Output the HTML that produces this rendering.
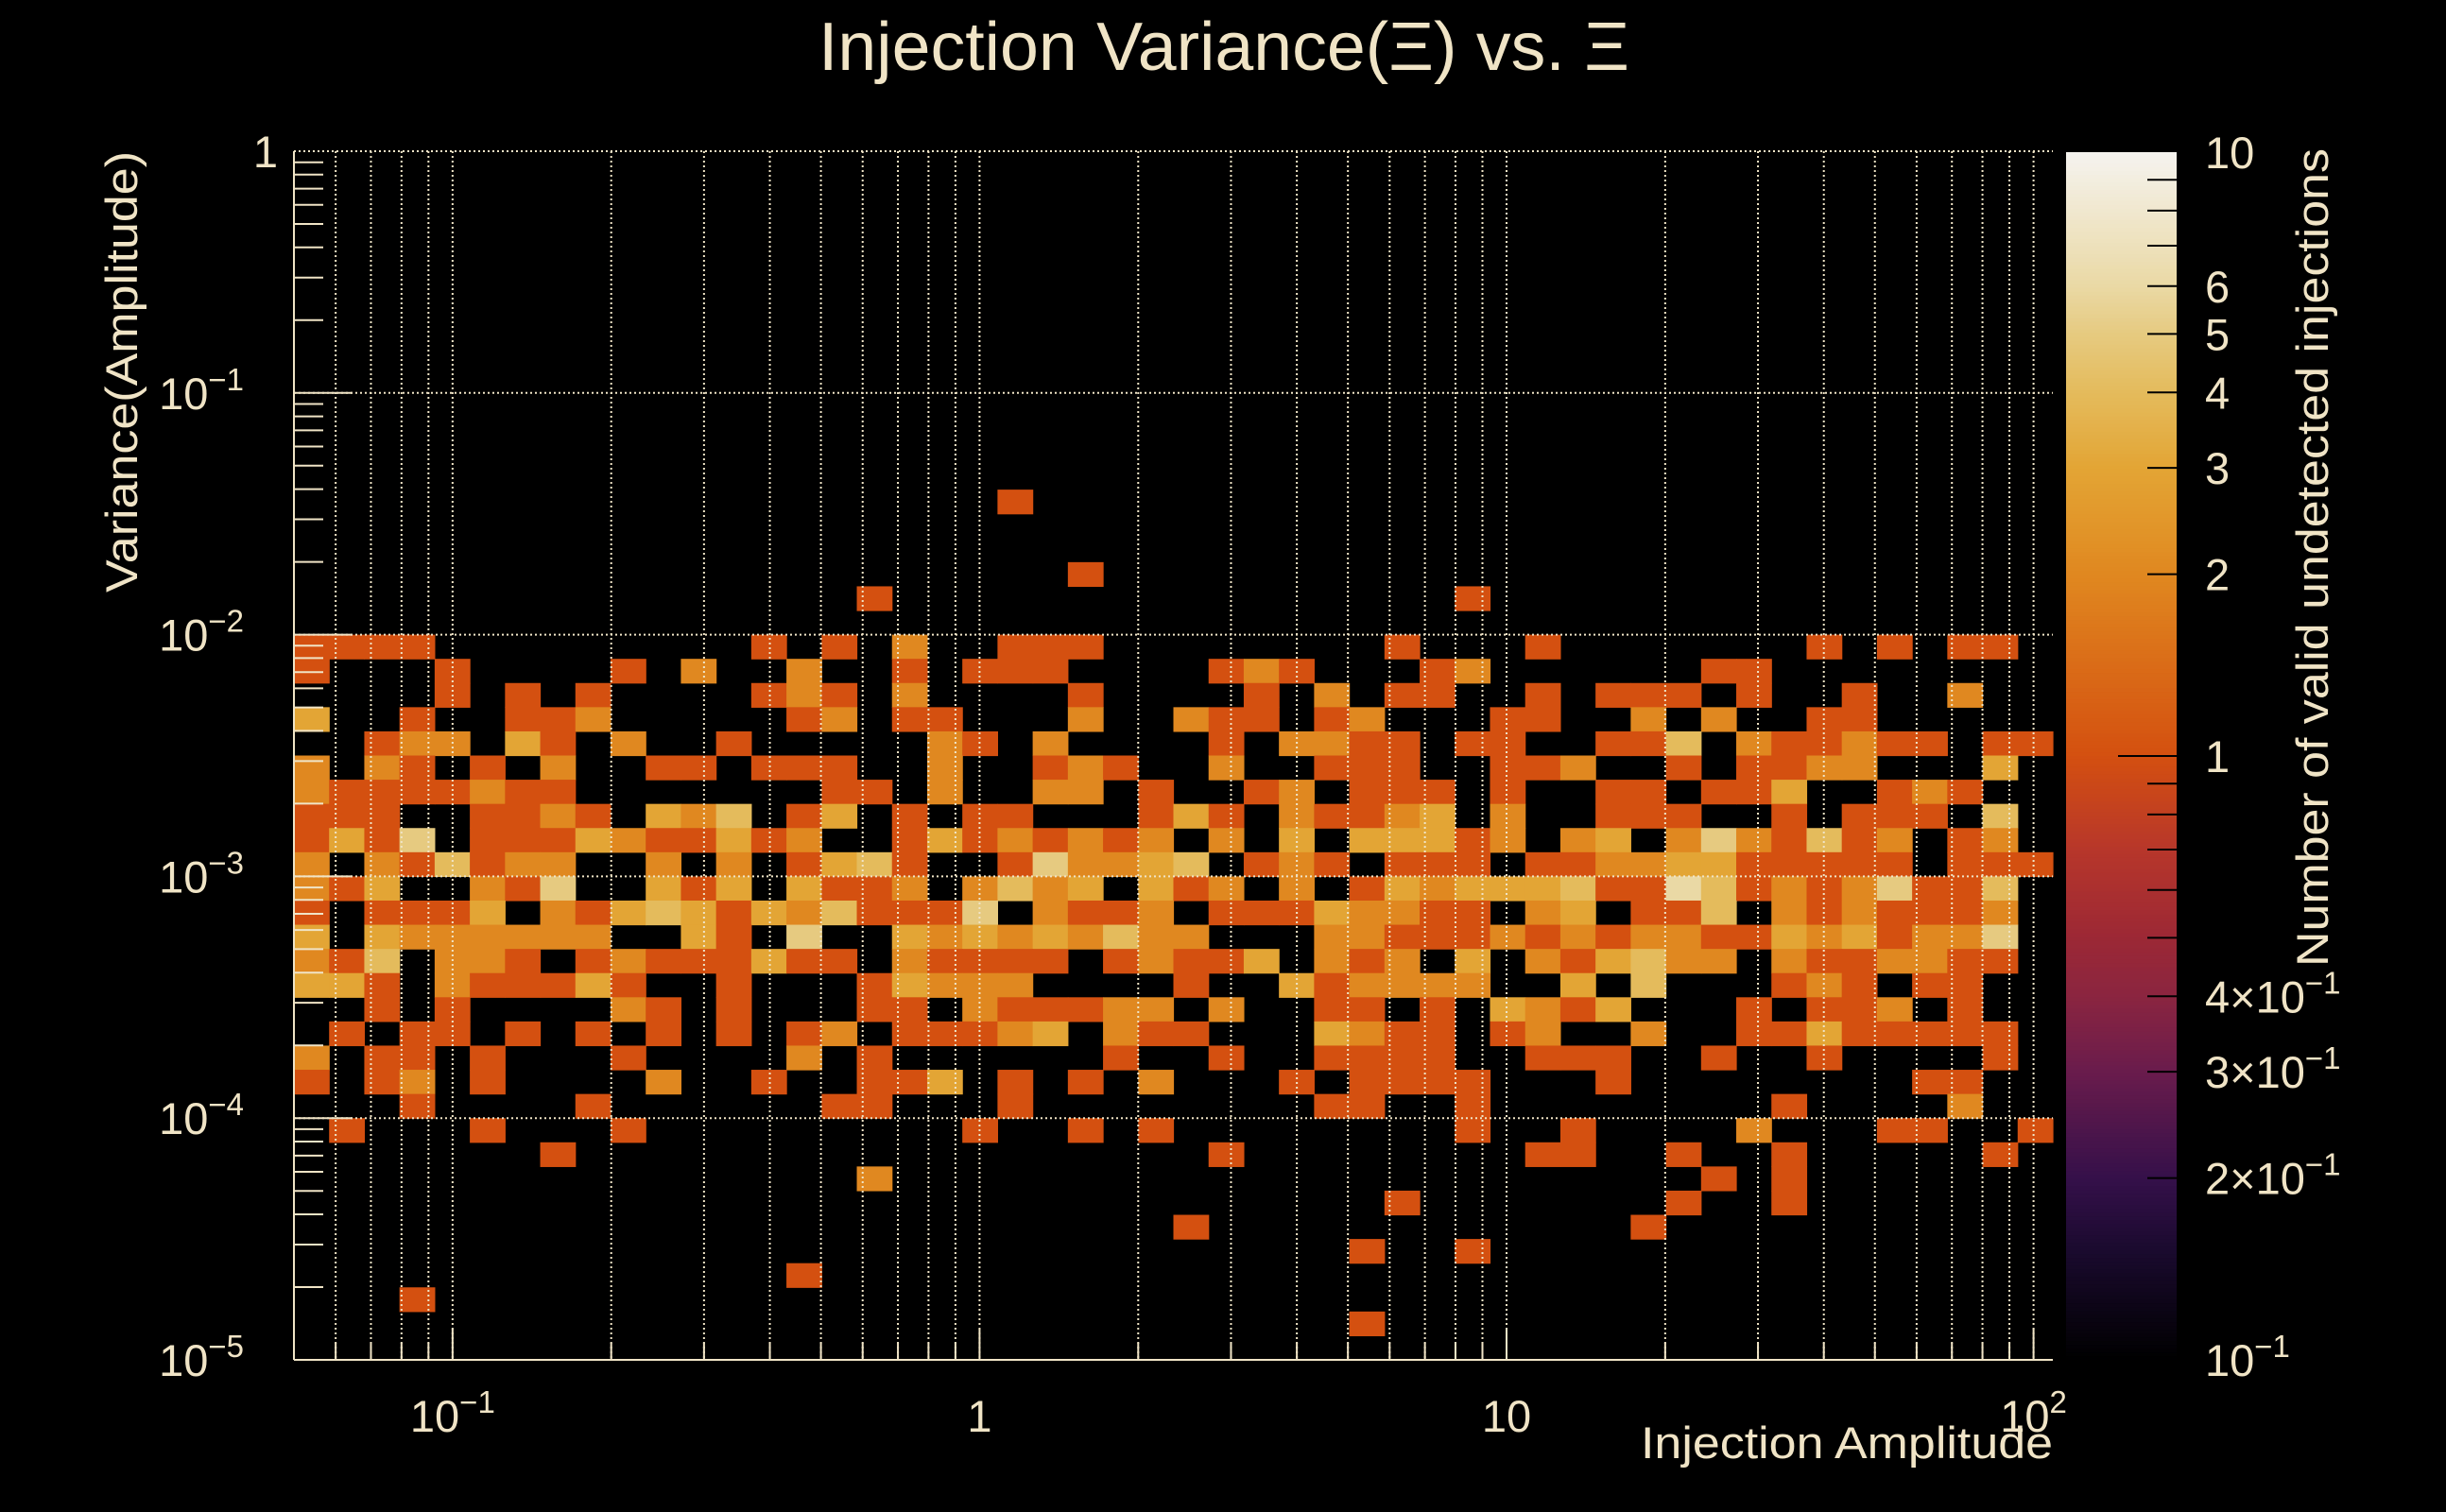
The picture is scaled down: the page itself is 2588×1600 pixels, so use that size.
<!DOCTYPE html>
<html><head><meta charset="utf-8">
<style>
html,body{margin:0;padding:0;background:#000;}
svg{display:block;}
text{font-family:"Liberation Sans",sans-serif;fill:#f0e4c6;}
</style></head>
<body>
<svg id="chart" xmlns="http://www.w3.org/2000/svg" width="2588" height="1600" viewBox="0 0 2588 1600">
<rect x="0" y="0" width="2588" height="1600" fill="#000"/>
<text x="1295" y="74" font-size="72" text-anchor="middle" textLength="858" lengthAdjust="spacingAndGlyphs">Injection Variance(Ξ) vs. Ξ</text>
<g id="cells"></g>
<g id="grid"></g>
<g id="axes"></g>
<g id="cbar"></g>
<text transform="translate(145,160) rotate(-90)" font-size="47" text-anchor="end" textLength="467" lengthAdjust="spacingAndGlyphs">Variance(Amplitude)</text>
<text x="2172" y="1543" font-size="47" text-anchor="end" textLength="436" lengthAdjust="spacingAndGlyphs">Injection Amplitude</text>
<text transform="translate(2463,157) rotate(-90)" font-size="47" text-anchor="end" textLength="866" lengthAdjust="spacingAndGlyphs">Number of valid undetected injections</text>
</svg>
<script>
// ---- data ----
const rowIndex = [14,17,18,20,21,22,23,24,25,26,27,28,29,30,31,32,33,34,35,36,37,38,39,40,41,42,43,44,45,46,47,48];
const rowCounts = [
".......... .......... 1......... .......... ..........",
".......... .......... ..1....... .......... ..........",
".......... ......1... .......... ...1...... ..........",
"1111...... ...1.1.2.. 111....... .1...1.... ...1.1.11.",
"1...1....1 .2..2..1.1 11....121. ..12...... 11........",
"....1.1.1. ...121.2.. ..1....1.2 .11..1.111 .1..1..2..",
"3..1..112. ....12.11. ..2..211.1 2...11..2. 2..11.....",
"..122.31.2 ..1.....21 .2....1.22 11.11..114 .211211.11",
"2.21.1.2.. 11.111..2. .121..2..1 11..112..1 .1122...3.",
"21111211.. .....11.2. .22.1..12. 111.1..11. 113..121..",
"111..1121. 324.13.1.1 1...131.21 123.2..111 ..1.111.4.",
"1315.11132 11312..131 21212.2.3. 33312.23.2 521412.12.",
"2.214122.. 2.2.1341.. 152234.121 .111.11223 311111.111",
"213..215.. 313.3112.2 423.312.2. 1323334116 412125114.",
"1.1113.213 4313241115 .2112.1113 2211.23.11 4.2121112.",
"3.3222222. .31.5..323 232422...2 2111212122 113231225.",
"214.221.12 111311.211 11.12113.2 12.3.21342 2.2112211.",
"331.211131 ..1...1322 2....1..31 2222..3.4. ..121.11..",
"..1.1....2 1.1...11.2 11122.2..1 1.1.3213.. .1.112.1..",
".1.11.1.1. 1.1.12.111 23.211...3 211.12..2. .11311111.",
"2.11.1...1 ....2.1... ...1..1..1 111..111.. 1..1....1.",
"1.12.1.... 2..1..113. 1.1.2...1. 1111...1.. ......11..",
"...1....1. .....11... 1........1 1..1...... ..1....2..",
".1...1...1 .........1 ..1.1..... ...1..1... .2...11..1",
".......1.. .......... ......1... .....11..1 ..1.....1.",
".......... ......2... .......... .......... 1.1.......",
".......... .......... .......... .1.......1 ..1.......",
".......... .......... .....1.... ........1. ..........",
".......... .......... .......... 1..1...... ..........",
".......... ....1..... .......... .......... ..........",
"...1...... .......... .......... .......... ..........",
".......... .......... .......... 1......... .........."
];
const xTickValues = [0.1, 1, 10, 100];
const xTickBase = ["10", "1", "10", "10"];
const xTickSup = ["\u22121", "", "", "2"];
const yTickValues = [1, 0.1, 0.01, 0.001, 0.0001, 0.00001];
const yTickSup = ["", "\u22121", "\u22122", "\u22123", "\u22124", "\u22125"];
const cbTickValues = [10, 6, 5, 4, 3, 2, 1, 0.4, 0.3, 0.2, 0.1];
const cbTickBase = ["10", "6", "5", "4", "3", "2", "1", "4\u00d710", "3\u00d710", "2\u00d710", "10"];
const cbTickSup = ["", "", "", "", "", "", "", "\u22121", "\u22121", "\u22121", "\u22121"];

// ---- axes geometry ----
const NS = "http://www.w3.org/2000/svg";
const PL = 311, PR = 2172, PT = 160, PB = 1439;
const xLog0 = Math.log10(0.05), xLog1 = 2.0366;
const yLog0 = -5, yLog1 = 0;
const nXBins = 50, nYBins = 50;
function xScale(v){ return PL + (Math.log10(v) - xLog0) / (xLog1 - xLog0) * (PR - PL); }
function yScale(v){ return PB - (Math.log10(v) - yLog0) / (yLog1 - yLog0) * (PB - PT); }
const CBL = 2186, CBR = 2303, CBT = 161, CBB = 1439;
function cbScale(v){ return CBB - (Math.log10(v) + 1) / 2 * (CBB - CBT); }

const stops = [
 [-1,[0,0,0]],[-0.82,[26,10,46]],[-0.7,[53,16,74]],[-0.52,[106,28,76]],[-0.4,[138,37,64]],
 [-0.3,[156,40,53]],[-0.15,[184,55,42]],[0,[212,80,16]],[0.301,[224,136,32]],[0.477,[227,165,53]],
 [0.602,[228,187,92]],[0.699,[230,202,128]],[0.778,[234,217,165]],[1,[245,243,239]]
];
function colorFor(v){
  let l = Math.log10(v); l = Math.max(-1, Math.min(1, l));
  for (let i=0;i<stops.length-1;i++){
    const a=stops[i], b=stops[i+1];
    if (l<=b[0]){ const t=(l-a[0])/(b[0]-a[0]);
      const c=a[1].map((x,k)=>Math.round(x+(b[1][k]-x)*t));
      return "rgb("+c.join(",")+")"; }
  }
  return "rgb(245,243,239)";
}
function mk(tag, attrs, parent){
  const el=document.createElementNS(NS,tag);
  for (const k in attrs) el.setAttribute(k, attrs[k]);
  parent.appendChild(el); return el;
}
const gCells=document.getElementById("cells"), gGrid=document.getElementById("grid"),
      gAxes=document.getElementById("axes"), gCb=document.getElementById("cbar");

// ---- cells ----
const bwx=(xLog1-xLog0)/nXBins, bwy=(yLog1-yLog0)/nYBins;
rowIndex.forEach((r, i)=>{
  const s=rowCounts[i].replace(/ /g,"");
  for (let c=0;c<nXBins;c++){
    const ch=s[c]; if (!ch || ch===".") continue;
    const n=parseInt(ch,10);
    const x0=xScale(Math.pow(10,xLog0+c*bwx)), x1=xScale(Math.pow(10,xLog0+(c+1)*bwx));
    const yTop=yScale(Math.pow(10,yLog1-r*bwy)), yBot=yScale(Math.pow(10,yLog1-(r+1)*bwy));
    const el=mk("rect",{x:x0.toFixed(2),y:yTop.toFixed(2),width:(x1-x0+0.6).toFixed(2),height:(yBot-yTop+0.6).toFixed(2),fill:colorFor(n)},gCells);
    
    
  }
});

// ---- grid ----
const gridStyle={stroke:"#f0e4c6","stroke-width":2,"stroke-dasharray":"2 3"};
for (let e=-2;e<=2;e++){
  for (let m=1;m<=9;m++){
    const v=m*Math.pow(10,e); const x=xScale(v);
    if (x<PL+1||x>PR) continue;
    const el=mk("line",Object.assign({x1:x,x2:x,y1:PT,y2:PB},gridStyle),gGrid);
    
    
  }
}
yTickValues.forEach(v=>{
  const y=yScale(v); if (y>PB-1) return;
  const el=mk("line",Object.assign({x1:PL,x2:PR,y1:y,y2:y},gridStyle),gGrid);
  
  
});

// ---- axes ----
const axStyle={stroke:"#f0e4c6","stroke-width":2};
let ax=mk("line",Object.assign({x1:PL,x2:PL,y1:PT,y2:PB},axStyle),gAxes);


ax=mk("line",Object.assign({x1:PL,x2:PR,y1:PB,y2:PB},axStyle),gAxes);


for (let e=-5;e<0;e++){
  for (let m=1;m<=9;m++){
    const y=yScale(m*Math.pow(10,e));
    const len=(m===1)?62:31;
    const el=mk("line",Object.assign({x1:PL,x2:PL+len,y1:y,y2:y},axStyle),gAxes);
    
    
  }
}
for (let e=-2;e<=2;e++){
  for (let m=1;m<=9;m++){
    const v=m*Math.pow(10,e); const x=xScale(v);
    if (x<PL+1||x>PR) continue;
    const len=(m===1)?33:18;
    const el=mk("line",Object.assign({x1:x,x2:x,y1:PB,y2:PB-len},axStyle),gAxes);
    
    
  }
}
function label(parent, x, y, base, sup, anchor, name){
  const t=mk("text",{x:x,y:y,"font-size":47,"text-anchor":anchor},parent);
  
  
  t.appendChild(document.createTextNode(base));
  if (sup){
    const ts=mk("tspan",{"font-size":33,dy:-20},t);
    ts.textContent=sup;
  }
  return t;
}
yTickValues.forEach((v,i)=>{
  const y=yScale(v)+17;
  if (yTickSup[i]) label(gAxes, 258, y, "10", yTickSup[i], "end", "y-tick-label");
  else label(gAxes, 294, y, "1", "", "end", "y-tick-label");
});
xTickValues.forEach((v,i)=>{
  const x=xScale(v);
  label(gAxes, x, 1515, xTickBase[i], xTickSup[i], "middle", "x-tick-label");
});

// ---- colorbar ----
const nStrips=320;
for (let i=0;i<nStrips;i++){
  const t0=i/nStrips, t1=(i+1)/nStrips;
  const v=Math.pow(10, 1-2*(t0+t1)/2);
  const y0=CBT+(CBB-CBT)*t0, y1=CBT+(CBB-CBT)*t1;
  const el=mk("rect",{x:CBL,y:y0.toFixed(2),width:CBR-CBL,height:(y1-y0+0.8).toFixed(2),fill:colorFor(v)},gCb);
  
  
}
for (let e=-1;e<=0;e++){
  for (let m=1;m<=9;m++){
    const v=m*Math.pow(10,e);
    if (v<=0.1||v>=10) continue;
    const y=cbScale(v);
    const x1=(v===1)?2241:2272;
    const el=mk("line",{x1:x1,x2:CBR,y1:y,y2:y,stroke:"#000","stroke-width":2},gCb);
    
    
  }
}
cbTickValues.forEach((v,i)=>{
  label(gCb, 2333, cbScale(v)+17, cbTickBase[i], cbTickSup[i], "start", "colorbar-tick-label");
});
</script>
</body></html>
